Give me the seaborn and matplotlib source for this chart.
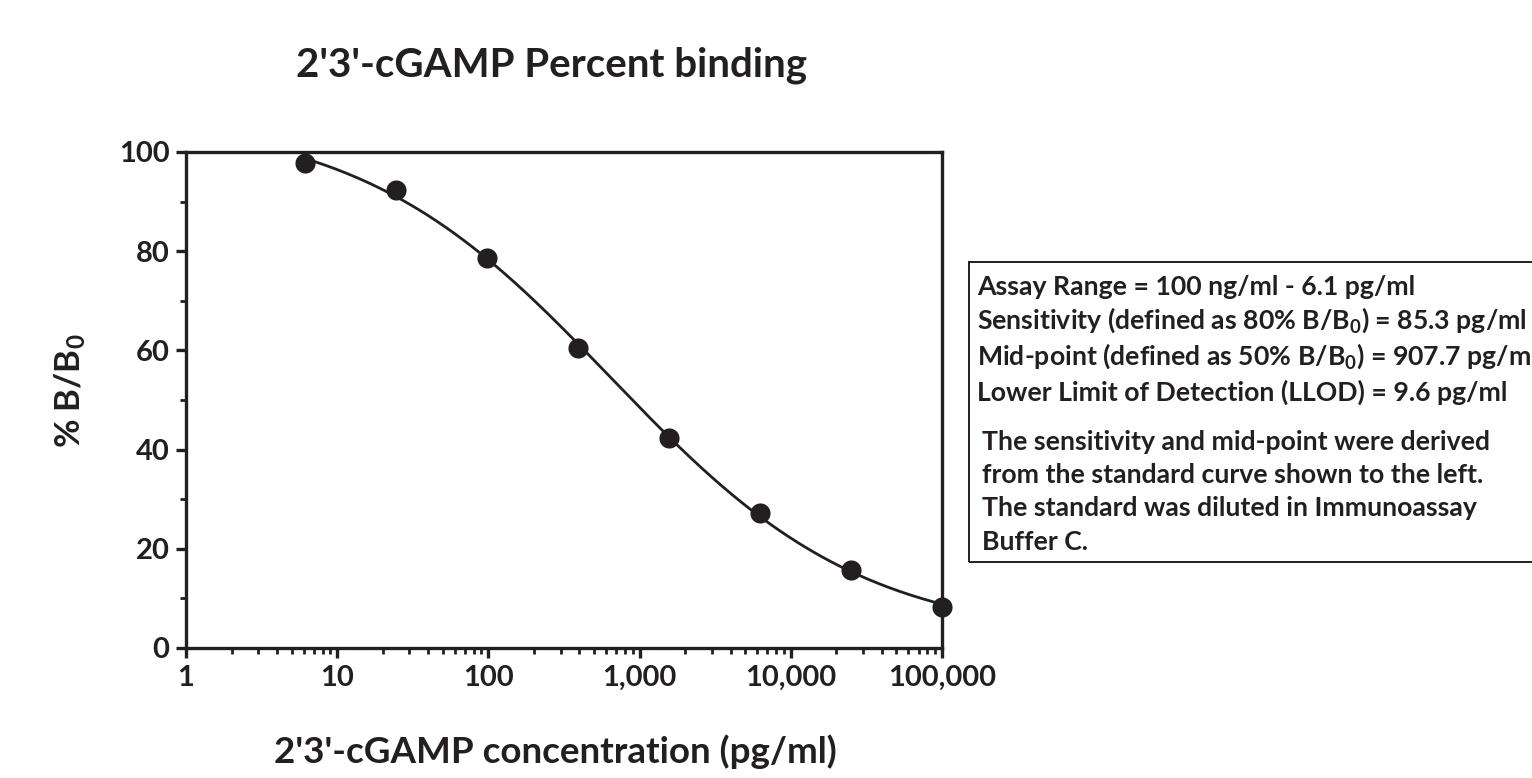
import numpy as np
import pandas as pd
import seaborn as sns
import matplotlib
matplotlib.use("Agg")
import matplotlib.pyplot as plt
from matplotlib.ticker import FuncFormatter, LogLocator, MultipleLocator
from matplotlib.patches import Rectangle

# datos del estandar (diluciones 1:4)
concentracion = [6.1, 24.4, 97.7, 390.6, 1562.5, 6250, 25000, 100000]
porcentaje_b = [97.8, 92.3, 78.7, 60.5, 42.4, 27.2, 15.8, 8.2]

titulo = "2'3'-cGAMP Percent binding"
etiqueta_x = "2'3'-cGAMP concentration (pg/ml)"
etiqueta_y = "% B/B$_0$"
lineas_info = [
    "Assay Range = 100 ng/ml - 6.1 pg/ml",
    "Sensitivity (defined as 80% B/B$_0$) = 85.3 pg/ml",
    "Mid-point (defined as 50% B/B$_0$) = 907.7 pg/ml",
    "Lower Limit of Detection (LLOD) = 9.6 pg/ml",
]
lineas_nota = [
    "The sensitivity and mid-point were derived",
    "from the standard curve shown to the left.",
    "The standard was diluted in Immunoassay",
    "Buffer C.",
]

df = pd.DataFrame({"conc": concentracion, "pct": porcentaje_b})

# ajuste 4PL simple (busqueda en rejilla + minimos cuadrados lineales)
logx = np.log10(df["conc"].values)
y = df["pct"].values
mejor = None
for lc in np.linspace(2.0, 4.0, 201):
    for h in np.linspace(0.3, 1.5, 121):
        g = 1.0 / (1.0 + 10 ** (h * (logx - lc)))
        A = np.column_stack([np.ones_like(g), g])
        coef = np.linalg.lstsq(A, y, rcond=None)[0]
        sse = np.sum((A @ coef - y) ** 2)
        if mejor is None or sse < mejor[0]:
            mejor = (sse, lc, h, coef)
_, lc, h, coef = mejor
xs = np.logspace(logx.min(), logx.max(), 300)
ys = coef[0] + coef[1] / (1.0 + 10 ** (h * (np.log10(xs) - lc)))
df_curva = pd.DataFrame({"conc": xs, "pct": ys})

# estilo
sns.set_style("ticks")
negro = "#231f20"
plt.rcParams["font.family"] = ["Lato", "DejaVu Sans"]
plt.rcParams["font.weight"] = "bold"
plt.rcParams["mathtext.fontset"] = "custom"
plt.rcParams["mathtext.rm"] = "Lato:bold"
plt.rcParams["mathtext.default"] = "rm"
plt.rcParams["text.color"] = negro

fig = plt.figure(figsize=(15.32, 7.78), dpi=100)
ax = fig.add_axes([186 / 1532, 1 - 648 / 778, (942 - 186) / 1532, (648 - 152) / 778])

sns.lineplot(data=df_curva, x="conc", y="pct", ax=ax, color=negro, lw=2.0)
sns.scatterplot(data=df, x="conc", y="pct", ax=ax, color=negro, s=210,
                edgecolor=negro, linewidth=0, clip_on=False, zorder=5)

ax.set_xscale("log")
ax.set_xlim(1, 100000)
ax.set_ylim(0, 100)
ax.xaxis.set_major_locator(LogLocator(base=10, numticks=10))
ax.xaxis.set_minor_locator(LogLocator(base=10, subs=np.arange(2, 10), numticks=20))
ax.xaxis.set_major_formatter(FuncFormatter(lambda v, p: f"{v:,.0f}"))
ax.yaxis.set_major_locator(MultipleLocator(20))
ax.yaxis.set_minor_locator(MultipleLocator(10))

for s in ax.spines.values():
    s.set_linewidth(2.4)
    s.set_color(negro)
ax.tick_params(which="major", length=7, width=2.4, color=negro, labelsize=21,
               labelcolor=negro, pad=5, direction="out")
ax.tick_params(which="minor", length=4, width=2.0, color=negro, direction="out")
for lab in ax.get_xticklabels() + ax.get_yticklabels():
    lab.set_fontweight("bold")
ax.set_xlabel("")
ax.set_ylabel("")

fig.text(552 / 1532, 1 - 65 / 778, titulo, ha="center", va="center",
         fontsize=29, fontweight="bold")
fig.text(555 / 1532, 1 - 752 / 778, etiqueta_x, ha="center", va="center",
         fontsize=26.5, fontweight="bold")
fig.text(70 / 1532, 1 - 391 / 778, etiqueta_y, ha="center", va="center",
         rotation=90, fontsize=25, fontweight="bold")

# recuadro de informacion (cortado en el borde derecho)
fig.patches.append(Rectangle((969 / 1532, 1 - 562 / 778), 0.5, (562 - 262) / 778,
                             transform=fig.transFigure, fill=False,
                             edgecolor=negro, lw=1.4))
base_info = [295, 329, 365, 401]
base_nota = [450, 483, 516, 550]
for t, yb in zip(lineas_info, base_info):
    fig.text(977 / 1532, 1 - yb / 778, t, ha="left", va="baseline",
             fontsize=19.2, fontweight="bold")
for t, yb in zip(lineas_nota, base_nota):
    fig.text(982 / 1532, 1 - yb / 778, t, ha="left", va="baseline",
             fontsize=19.2, fontweight="bold")

fig.savefig("out.png", dpi=100, facecolor="white")
